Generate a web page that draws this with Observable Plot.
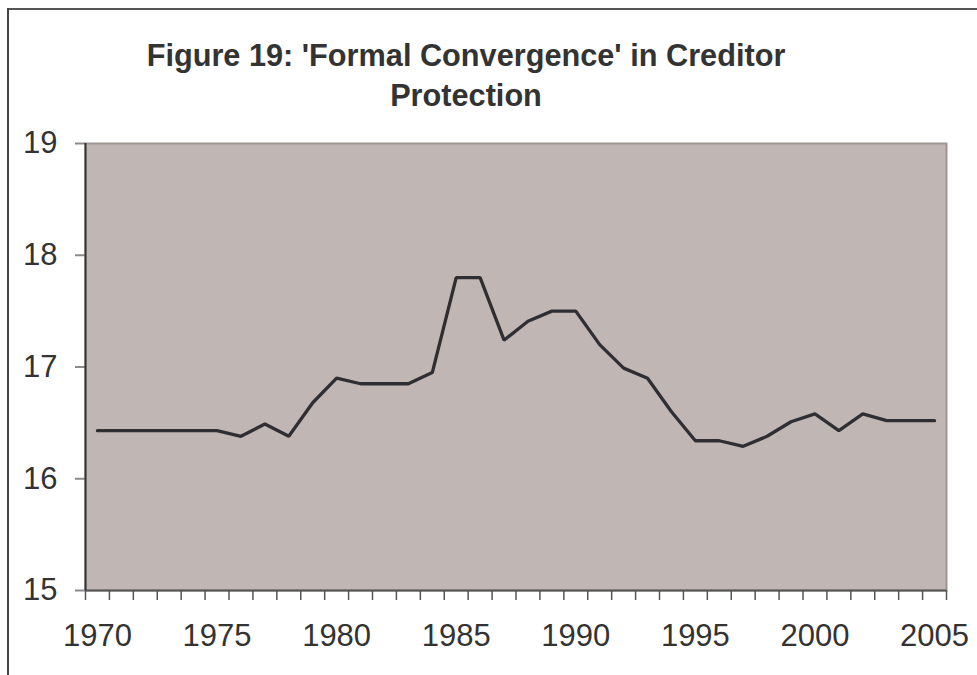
<!DOCTYPE html>
<html>
<head>
<meta charset="utf-8">
<script src="https://cdn.jsdelivr.net/npm/d3@7"></script>
<script src="https://cdn.jsdelivr.net/npm/@observablehq/plot@0.6"></script>
<style>
  html, body { margin: 0; padding: 0; background: #fff; }
  #wrap { position: relative; width: 977px; height: 675px; overflow: hidden; font-family: "Liberation Sans", Arial, sans-serif; }
  #frameTop { position: absolute; left: 7px; top: 8px; width: 970px; height: 2px; background: #555; }
  #frameLeft { position: absolute; left: 7px; top: 8px; width: 2px; height: 667px; background: #444; }
  #title { position: absolute; left: 66px; width: 800px; top: 36px; text-align: center; font-weight: bold; font-size: 30.7px; line-height: 40px; color: #333; white-space: nowrap; }
  #chart { position: absolute; left: 0; top: 0; }
</style>
</head>
<body>
<div id="wrap">
  <div id="chart"></div>
  <div id="frameTop"></div>
  <div id="frameLeft"></div>
  <div id="title">Figure 19: 'Formal Convergence' in Creditor<br>Protection</div>
</div>
<script>
const years = d3.range(1970, 2006);
const values = [
  16.43, 16.43, 16.43, 16.43, 16.43, 16.43, 16.38, 16.49, 16.38, 16.68,
  16.90, 16.85, 16.85, 16.85, 16.95, 17.80, 17.80, 17.24, 17.41, 17.50,
  17.50, 17.20, 16.99, 16.90, 16.60, 16.34, 16.34, 16.29, 16.38, 16.51,
  16.58, 16.43, 16.58, 16.52, 16.52, 16.52
];
const yTicks = [15, 16, 17, 18, 19];
const xLabels = [1970, 1975, 1980, 1985, 1990, 1995, 2000, 2005];
const xDomain = [1969.5, 2005.5];
const xMinorTicks = d3.range(1969.5, 2006, 1);

const data = years.map((y, i) => ({year: y, value: values[i]}));

const chart = Plot.plot({
  width: 977,
  height: 675,
  marginLeft: 85,
  marginRight: 31,
  marginTop: 143,
  marginBottom: 85,
  style: {fontFamily: "Liberation Sans, Arial, sans-serif", color: "#333", background: "transparent"},
  x: {domain: xDomain},
  y: {domain: [15, 19]},
  marks: [
    Plot.frame({fill: "#c0b7b4", stroke: "#9e9593", strokeWidth: 2}),
    Plot.axisY({ticks: yTicks, tickSize: 10, tickPadding: 18, fontSize: 31, tickFormat: d => String(d), stroke: "#8a8a8a", strokeWidth: 2, label: null, fill: "#333"}),
    Plot.axisX({ticks: xMinorTicks, tickSize: 10, tickFormat: () => "", stroke: "#555", strokeWidth: 1.5, label: null}),
    Plot.axisX({ticks: xLabels, tickSize: 0, tickPadding: 33, fontSize: 31, tickFormat: d => String(d), label: null, fill: "#333"}),
    Plot.ruleY([15], {stroke: "#555", strokeWidth: 2}),
    Plot.ruleX([1969.5], {stroke: "#333", strokeWidth: 2}),
    Plot.line(data, {x: "year", y: "value", stroke: "#2f2f33", strokeWidth: 3.3, strokeLinejoin: "miter"})
  ]
});
document.getElementById("chart").appendChild(chart);
</script>
</body>
</html>
